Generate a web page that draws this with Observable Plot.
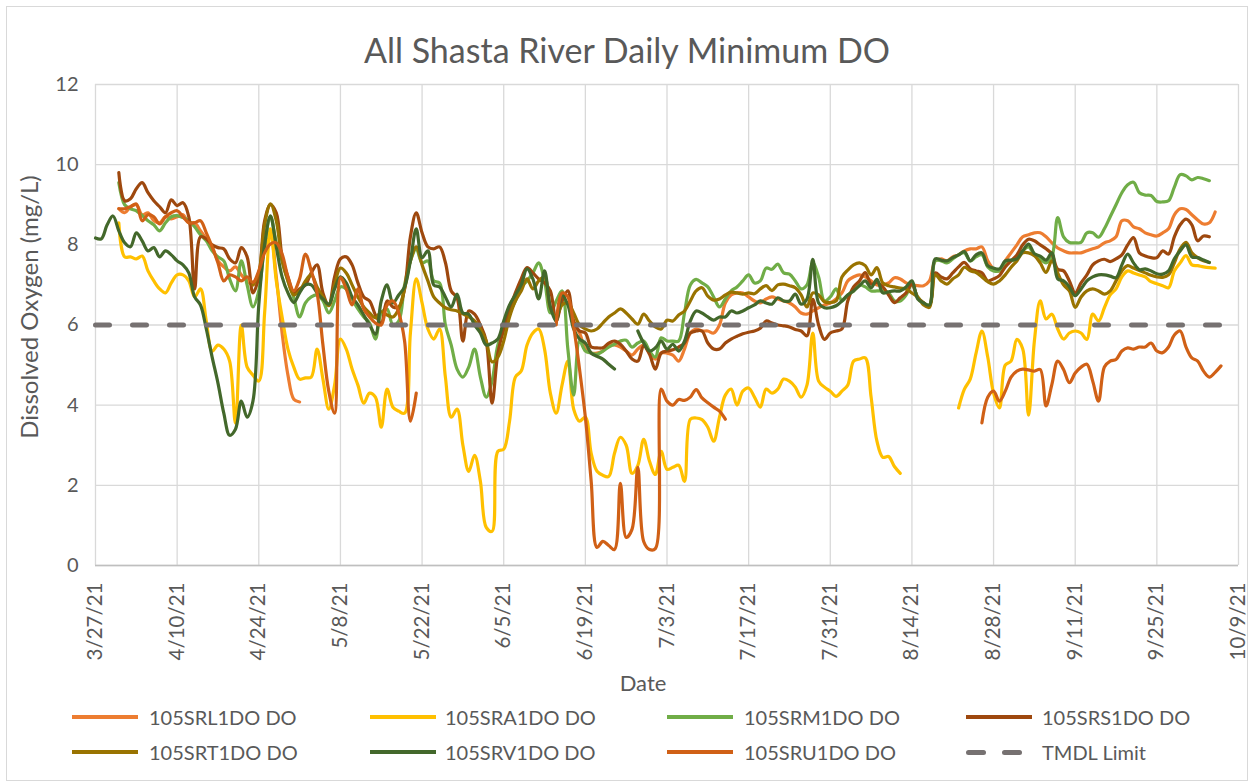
<!DOCTYPE html>
<html>
<head>
<meta charset="utf-8">
<script src="https://cdn.jsdelivr.net/npm/d3@7"></script>
<script src="https://cdn.jsdelivr.net/npm/@observablehq/plot@0.6"></script>
<style>
  html, body { margin: 0; padding: 0; background: #fff; }
  #wrap { position: relative; width: 1255px; height: 784px; overflow: hidden; font-family: Lato, "Open Sans", sans-serif; color: #595959; }
  #frame { position: absolute; left: 6px; top: 6px; width: 1242px; height: 775px; border: 1px solid #d9d9d9; box-sizing: border-box; }
  #chart { position: absolute; left: 0; top: 0; }
  .lg { position: absolute; font-size: 20px; line-height: 22px; white-space: nowrap; }
  .sw { position: absolute; height: 4px; width: 66px; }
</style>
</head>
<body>
<div id="wrap"><div id="frame"></div><div id="chart"></div><div id="legend"></div></div>
<script>
const startDate = "2021-03-27";
const title = "All Shasta River Daily Minimum DO";
const xTitle = "Date";
const yTitle = "Dissolved Oxygen (mg/L)";
const xTickLabels = ["3/27/21","4/10/21","4/24/21","5/8/21","5/22/21","6/5/21","6/19/21","7/3/21","7/17/21","7/31/21","8/14/21","8/28/21","9/11/21","9/25/21","10/9/21"];
const yTicks = [0, 2, 4, 6, 8, 10, 12];
const tmdlLimit = 6;
const seriesNames = ["105SRL1DO DO","105SRA1DO DO","105SRM1DO DO","105SRS1DO DO","105SRT1DO DO","105SRV1DO DO","105SRU1DO DO"];
const seriesColors = ["#ED7D31","#FFC000","#70AD47","#9E480E","#997300","#43682B","#D06016"];
const tmdlName = "TMDL Limit";
const tmdlColor = "#767171";

// [days since 3/27/21, mg/L]; null = no data
const SRL1 = [[4,8.9],[5,8.8],[6,8.95],[7,9.0],[8,8.75],[9,8.8],[10,8.6],[11,8.55],[12,8.7],[13,8.65],[14,8.7],[15,8.75],[16,8.55],[17,8.55],[18,8.35],[19,8.15],[20,7.95],[21,7.6],[22,7.45],[23,7.35],[24,7.45],[25,7.25],[26,7.1],[27,7.0],[28,7.3],[29,7.9],[30,8.2],[31,7.2],[32,5.8],[33,4.75],[34,4.15],[35,4.08],[36,null],
[82,6.0],[83,5.8],[84,5.4],[85,5.3],[86,5.3],[87,5.35],[88,5.5],[89,5.5],[90,5.45],[91,5.35],[92,5.25],[93,5.4],[94,5.5],[95,5.3],[96,5.15],[97,5.3],[98,5.3],[99,5.25],[100,5.1],[101,5.4],[102,5.8],[103,5.9],[104,5.85],[105,5.85],[106,5.8],[107,6.0],[108,6.55],[109,6.75],[110,6.8],[111,6.8],[112,6.7],[113,6.6],[114,6.55],[115,6.65],[116,6.7],[117,6.65],[118,6.6],[119,6.55],[120,6.45],[121,6.3],[122,6.27],[123,6.35],[124,6.43],[125,6.5],[126,6.55],[127,6.65],[128,6.8],[129,7.1],[130,7.2],[131,7.25],[132,7.2],[133,7.1],[134,7.0],[135,7.0],[136,7.05],[137,7.18],[138,7.15],[139,7.05],[140,7.0],[141,6.98],[142,6.98],[143,7.1],[144,7.6],[145,7.65],[146,7.6],[147,7.7],[148,7.75],[149,7.85],[150,7.9],[151,7.9],[152,7.95],[153,7.6],[154,7.4],[155,7.35],[156,7.6],[157,7.8],[158,8.0],[159,8.2],[160,8.25],[161,8.3],[162,8.3],[163,8.2],[164,8.05],[165,7.92],[166,7.85],[167,7.8],[168,7.8],[169,7.8],[170,7.85],[171,7.9],[172,7.95],[173,8.05],[174,8.1],[175,8.2],[176,8.6],[177,8.6],[178,8.45],[179,8.4],[180,8.3],[181,8.25],[182,8.22],[183,8.3],[184,8.4],[185,8.75],[186,8.9],[187,8.88],[188,8.75],[189,8.62],[190,8.52],[191,8.55],[192,8.82]];

const SRA1 = [[4,8.55],[5,7.7],[6,7.7],[7,7.65],[8,7.72],[9,7.35],[10,7.1],[11,6.9],[12,6.8],[13,7.05],[14,7.25],[15,7.25],[16,7.1],[17,6.7],[18,6.9],[19,6.1],[20,5.35],[21,5.5],[22,5.4],[23,5.1],[24,3.55],[25,6.0],[26,4.95],[27,4.75],[28,4.6],[29,6.3],[30,8.4],[31,7.1],[32,6.2],[33,5.4],[34,4.95],[35,4.65],[36,4.68],[37,4.7],[38,5.4],[39,4.65],[40,3.9],[41,4.5],[42,5.65],[43,5.4],[44,4.9],[45,4.5],[46,4.05],[47,4.3],[48,4.2],[49,3.45],[50,4.4],[51,3.95],[52,3.85],[53,3.8],[54,5.8],[55,7.15],[56,6.55],[57,5.9],[58,5.65],[59,5.9],[60,4.7],[61,3.7],[62,3.9],[63,3.0],[64,2.35],[65,2.75],[66,2.1],[67,0.95],[68,0.85],[69,2.85],[70,2.9],[71,3.6],[72,4.7],[73,4.85],[74,5.5],[75,5.8],[76,5.9],[77,5.4],[78,4.3],[79,3.8],[80,4.5],[81,5.1],[82,3.9],[83,3.6],[84,3.7],[85,2.8],[86,2.35],[87,2.25],[88,2.22],[89,2.8],[90,3.2],[91,3.0],[92,2.3],[93,2.5],[94,3.15],[95,2.6],[96,2.27],[97,2.85],[98,2.4],[99,2.45],[100,2.5],[101,2.1],[102,3.65],[103,3.68],[104,3.64],[105,3.45],[106,3.1],[107,3.7],[108,4.25],[109,4.4],[110,4.0],[111,4.35],[112,4.43],[113,4.2],[114,3.95],[115,4.4],[116,4.3],[117,4.4],[118,4.65],[119,4.6],[120,4.45],[121,4.2],[122,4.5],[123,5.8],[124,4.6],[125,4.45],[126,4.35],[127,4.22],[128,4.35],[129,4.5],[130,5.1],[131,5.15],[132,5.18],[133,4.2],[134,3.1],[135,2.7],[136,2.72],[137,2.47],[138,2.3],[139,null],
[148,3.93],[149,4.4],[150,4.65],[151,5.3],[152,5.85],[153,5.2],[154,4.3],[155,3.93],[156,5.0],[157,5.1],[158,5.64],[159,5.4],[160,3.75],[161,5.6],[162,6.6],[163,6.15],[164,6.27],[165,5.9],[166,5.65],[167,5.8],[168,5.85],[169,5.8],[170,5.64],[171,6.27],[172,6.1],[173,6.43],[174,6.75],[175,6.9],[176,7.2],[177,7.35],[178,7.3],[179,7.25],[180,7.2],[181,7.08],[182,7.03],[183,6.98],[184,6.93],[185,7.35],[186,7.55],[187,7.73],[188,7.5],[189,7.48],[190,7.45],[191,7.43],[192,7.42]];

const SRM1 = [[4,9.55],[5,9.0],[6,8.9],[7,8.85],[8,8.73],[9,8.6],[10,8.5],[11,8.35],[12,8.55],[13,8.7],[14,8.73],[15,8.68],[16,8.6],[17,8.45],[18,8.25],[19,8.1],[20,7.85],[21,7.7],[22,7.6],[23,7.15],[24,6.85],[25,7.6],[26,7.0],[27,6.45],[28,6.85],[29,8.0],[30,8.7],[31,8.05],[32,7.6],[33,7.1],[34,6.68],[35,6.2],[36,6.55],[37,6.7],[38,6.75],[39,6.6],[40,6.3],[41,6.6],[42,6.95],[43,6.9],[44,6.65],[45,6.4],[46,6.2],[47,6.05],[48,5.65],[49,6.3],[50,6.4],[51,6.0],[52,6.1],[53,7.0],[54,7.6],[55,7.9],[56,7.55],[57,7.6],[58,7.1],[59,7.05],[60,6.0],[61,5.5],[62,4.9],[63,4.7],[64,4.95],[65,5.4],[66,4.7],[67,4.2],[68,4.6],[69,5.5],[70,5.85],[71,6.3],[72,6.6],[73,6.95],[74,7.1],[75,7.3],[76,7.55],[77,7.1],[78,6.3],[79,6.6],[80,6.85],[81,5.4],[82,4.25],[83,5.6],[84,5.35],[85,5.3],[86,5.27],[87,5.35],[88,5.45],[89,5.52],[90,5.6],[91,5.62],[92,5.45],[93,5.55],[94,5.6],[95,5.35],[96,5.2],[97,5.68],[98,5.6],[99,5.6],[100,5.6],[101,6.3],[102,7.0],[103,7.14],[104,7.05],[105,6.95],[106,6.7],[107,6.45],[108,6.65],[109,6.85],[110,6.95],[111,7.1],[112,7.25],[113,7.05],[114,7.1],[115,7.42],[116,7.39],[117,7.52],[118,7.3],[119,7.27],[120,7.1],[121,6.9],[122,7.0],[123,7.55],[124,7.2],[125,6.6],[126,6.7],[127,6.9],[128,6.6],[129,6.75],[130,6.85],[131,7.0],[132,6.95],[133,6.85],[134,6.85],[135,6.85],[136,6.8],[137,6.6],[138,6.6],[139,6.75],[140,7.0],[141,6.7],[142,6.55],[143,6.5],[144,7.6],[145,7.6],[146,7.55],[147,7.65],[148,7.75],[149,7.8],[150,7.6],[151,7.7],[152,7.75],[153,7.45],[154,7.35],[155,7.35],[156,7.55],[157,7.6],[158,7.65],[159,7.85],[160,7.95],[161,7.75],[162,7.65],[163,7.55],[164,7.7],[165,8.68],[166,8.2],[167,8.06],[168,8.05],[169,8.06],[170,8.3],[171,8.3],[172,8.19],[173,8.4],[174,8.7],[175,9.0],[176,9.3],[177,9.5],[178,9.56],[179,9.3],[180,9.24],[181,9.23],[182,9.08],[183,9.07],[184,9.1],[185,9.44],[186,9.75],[187,9.72],[188,9.62],[189,9.68],[190,9.65],[191,9.6]];

const SRS1 = [[4,9.8],[5,9.1],[6,9.15],[7,9.4],[8,9.55],[9,9.3],[10,9.1],[11,8.95],[12,8.8],[13,9.12],[14,8.98],[15,9.05],[16,8.7],[17,6.9],[18,8.2],[19,8.15],[20,8.0],[21,7.93],[22,7.9],[23,7.65],[24,7.55],[25,7.93],[26,7.7],[27,6.8],[28,7.2],[29,8.6],[30,9.0],[31,8.8],[32,7.7],[33,7.2],[34,6.8],[35,6.9],[36,7.0],[37,7.3],[38,7.5],[39,6.8],[40,6.5],[41,7.2],[42,7.65],[43,7.7],[44,7.5],[45,7.05],[46,6.7],[47,6.6],[48,6.25],[49,6.05],[50,6.6],[51,6.45],[52,6.45],[53,6.9],[54,8.2],[55,8.8],[56,8.3],[57,7.95],[58,7.9],[59,7.95],[60,7.56],[61,6.85],[62,6.68],[63,5.6],[64,6.35],[65,6.27],[66,6.0],[67,5.6],[68,4.05],[69,5.3],[70,5.9],[71,6.4],[72,6.8],[73,7.15],[74,7.43],[75,7.3],[76,7.15],[77,7.05],[78,6.85],[79,6.1],[80,6.6],[81,6.85],[82,6.1],[83,5.85],[84,5.8],[85,5.45],[86,5.43],[87,5.43],[88,5.55],[89,5.6],[90,5.52],[91,5.35],[92,5.15],[93,5.1],[94,5.48],[95,5.27],[96,4.9],[97,5.3],[98,5.35],[99,5.38],[100,5.45],[101,5.55],[102,5.8],[103,5.85],[104,5.85],[105,5.55],[106,5.4],[107,5.4],[108,5.55],[109,5.65],[110,5.72],[111,5.78],[112,5.82],[113,5.85],[114,5.92],[115,6.1],[116,6.05],[117,6.0],[118,5.98],[119,5.95],[120,5.89],[121,5.85],[122,5.73],[123,6.64],[124,6.0],[125,5.64],[126,5.8],[127,5.85],[128,5.9],[129,6.6],[130,6.95],[131,7.1],[132,7.31],[133,7.02],[134,7.06],[135,6.95],[136,6.75],[137,6.56],[138,6.68],[139,6.8],[140,7.02],[141,6.68],[142,6.55],[143,6.48],[144,7.3],[145,7.2],[146,7.15],[147,7.3],[148,7.45],[149,7.56],[150,7.4],[151,7.35],[152,7.3],[153,7.1],[154,7.15],[155,7.23],[156,7.45],[157,7.6],[158,7.75],[159,8.0],[160,8.14],[161,8.1],[162,8.0],[163,7.9],[164,7.77],[165,7.39],[166,7.35],[167,7.1],[168,6.8],[169,7.05],[170,7.25],[171,7.5],[172,7.6],[173,7.64],[174,7.58],[175,7.65],[176,7.75],[177,8.0],[178,8.18],[179,7.8],[180,7.72],[181,7.68],[182,7.68],[183,7.85],[184,7.77],[185,8.2],[186,8.5],[187,8.64],[188,8.5],[189,8.1],[190,8.22],[191,8.2]];

const SRT1 = [[27,7.0],[28,7.3],[29,8.5],[30,9.02],[31,8.6],[32,7.6],[33,7.1],[34,6.75],[35,6.85],[36,7.1],[37,7.25],[38,6.95],[39,6.7],[40,6.48],[41,7.0],[42,7.42],[43,7.3],[44,7.0],[45,6.7],[46,6.45],[47,6.3],[48,6.18],[49,6.33],[50,6.25],[51,6.2],[52,6.4],[53,6.9],[54,7.6],[55,7.95],[56,7.5],[57,7.1],[58,6.7],[59,6.55],[60,6.43],[61,6.38],[62,6.35],[63,6.28],[64,6.2],[65,6.1],[66,5.9],[67,5.6],[68,5.08],[69,5.2],[70,5.6],[71,6.2],[72,6.6],[73,6.85],[74,7.15],[75,6.9],[76,7.1],[77,7.2],[78,6.43],[79,6.2],[80,6.5],[81,6.55],[82,6.3],[83,6.0],[84,5.9],[85,5.85],[86,5.9],[87,6.05],[88,6.2],[89,6.3],[90,6.4],[91,6.3],[92,6.15],[93,6.02],[94,6.27],[95,6.1],[96,5.95],[97,5.9],[98,6.12],[99,6.1],[100,6.25],[101,6.35],[102,6.6],[103,6.85],[104,6.93],[105,6.72],[106,6.62],[107,6.65],[108,6.75],[109,6.82],[110,6.8],[111,6.77],[112,6.8],[113,6.78],[114,6.9],[115,6.98],[116,6.86],[117,7.0],[118,7.02],[119,6.98],[120,6.93],[121,6.75],[122,6.45],[123,6.8],[124,6.75],[125,6.58],[126,6.56],[127,6.6],[128,7.2],[129,7.37],[130,7.5],[131,7.55],[132,7.48],[133,7.25],[134,7.43],[135,7.05],[136,6.98],[137,6.95],[138,6.92],[139,6.9],[140,6.8],[141,6.69],[142,6.5],[143,6.44],[144,7.25],[145,7.1],[146,7.02],[147,7.15],[148,7.25],[149,7.44],[150,7.35],[151,7.31],[152,7.2],[153,7.08],[154,7.02],[155,7.1],[156,7.25],[157,7.44],[158,7.6],[159,7.8],[160,7.8],[161,7.73],[162,7.55],[163,7.31],[164,7.6],[165,7.3],[166,7.0],[167,6.85],[168,6.44],[169,6.7],[170,6.85],[171,6.9],[172,6.85],[173,6.77],[174,6.85],[175,7.1],[176,7.35],[177,7.48],[178,7.42],[179,7.36],[180,7.3],[181,7.24],[182,7.2],[183,7.19],[184,7.25],[185,7.55],[186,7.9],[187,8.06],[188,7.8],[189,7.68],[190,7.6],[191,7.56]];

const SRV1 = [[0,8.17],[1,8.15],[2,8.5],[3,8.72],[4,8.35],[5,8.05],[6,7.95],[7,8.3],[8,8.1],[9,7.85],[10,7.93],[11,7.7],[12,7.85],[13,7.75],[14,7.6],[15,7.5],[16,7.3],[17,6.7],[18,6.5],[19,5.9],[20,5.2],[21,4.55],[22,3.8],[23,3.25],[24,3.4],[25,4.1],[26,3.7],[27,4.1],[28,6.5],[29,8.0],[30,8.72],[31,7.95],[32,7.2],[33,6.8],[34,6.56],[35,6.8],[36,7.0],[37,7.0],[38,6.8],[39,6.65],[40,6.52],[41,6.9],[42,7.2],[43,7.05],[44,6.7],[45,6.5],[46,6.25],[47,6.0],[48,5.77],[49,6.6],[50,7.0],[51,6.55],[52,6.75],[53,6.95],[54,7.6],[55,8.4],[56,7.68],[57,7.85],[58,7.0],[59,6.95],[60,6.7],[61,6.45],[62,6.77],[63,6.3],[64,6.27],[65,6.0],[66,5.8],[67,5.5],[68,5.55],[69,5.65],[70,6.1],[71,6.5],[72,6.75],[73,7.0],[74,7.4],[75,7.15],[76,6.65],[77,7.35],[78,6.45],[79,6.1],[80,6.75],[81,6.5],[82,5.9],[83,5.65],[84,5.55],[85,5.3],[86,5.22],[87,5.15],[88,5.02],[89,4.9],[90,null],
[93,5.85],[94,5.55],[95,5.35],[96,5.43],[97,5.6],[98,5.4],[99,5.52],[100,5.35],[101,5.6],[102,6.1],[103,6.35],[104,6.3],[105,6.2],[106,6.12],[107,6.2],[108,6.2],[109,6.35],[110,6.3],[111,6.35],[112,6.43],[113,6.5],[114,6.6],[115,6.55],[116,6.52],[117,6.68],[118,6.6],[119,6.6],[120,6.77],[121,6.52],[122,6.65],[123,7.64],[124,6.55],[125,6.43],[126,6.43],[127,6.48],[128,6.6],[129,6.75],[130,6.85],[131,6.98],[132,7.1],[133,6.93],[134,7.14],[135,6.8],[136,6.83],[137,6.85],[138,6.85],[139,6.95],[140,7.1],[141,6.65],[142,6.55],[143,6.5],[144,7.65],[145,7.62],[146,7.6],[147,7.68],[148,7.75],[149,7.83],[150,7.6],[151,7.75],[152,7.8],[153,7.48],[154,7.42],[155,7.4],[156,7.6],[157,7.62],[158,7.65],[159,7.85],[160,8.02],[161,7.78],[162,7.72],[163,7.62],[164,7.8],[165,7.15],[166,7.1],[167,6.95],[168,6.73],[169,6.9],[170,7.1],[171,7.2],[172,7.25],[173,7.25],[174,7.22],[175,7.18],[176,7.5],[177,7.77],[178,7.55],[179,7.38],[180,7.4],[181,7.35],[182,7.28],[183,7.27],[184,7.35],[185,7.65],[186,7.85],[187,8.0],[188,7.7],[189,7.68],[190,7.62],[191,7.56]];

const SRU1 = [[4,8.9],[5,8.9],[6,8.95],[7,9.02],[8,8.6],[9,8.75],[10,8.7],[11,8.52],[12,8.7],[13,8.8],[14,8.85],[15,8.7],[16,8.55],[17,8.55],[18,8.6],[19,8.3],[20,7.95],[21,7.55],[22,7.1],[23,7.25],[24,7.2],[25,7.1],[26,7.2],[27,7.06],[28,7.35],[29,7.8],[30,8.02],[31,8.05],[32,7.77],[33,7.2],[34,6.85],[35,7.15],[36,7.77],[37,7.35],[38,6.8],[39,5.5],[40,4.35],[41,3.8],[42,7.18],[43,6.9],[44,6.5],[45,6.9],[46,6.4],[47,6.2],[48,6.05],[49,6.0],[50,6.5],[51,6.6],[52,6.3],[53,5.6],[54,3.6],[55,4.3],[56,null],
[79,6.0],[80,6.8],[81,6.7],[82,5.95],[83,4.9],[84,3.7],[85,2.1],[86,0.45],[87,0.6],[88,0.5],[89,0.4],[90,2.05],[91,0.7],[92,0.9],[93,2.45],[94,0.6],[95,0.4],[96,0.42],[97,4.4],[98,4.1],[99,4.0],[100,4.14],[101,4.12],[102,4.2],[103,4.39],[104,4.18],[105,4.06],[106,3.95],[107,3.85],[108,3.65],[109,null],
[152,3.56],[153,4.2],[154,4.35],[155,4.1],[156,4.35],[157,4.7],[158,4.85],[159,4.9],[160,4.88],[161,4.85],[162,4.89],[163,3.98],[164,4.52],[165,5.1],[166,4.89],[167,4.56],[168,4.8],[169,4.95],[170,5.02],[171,4.6],[172,4.1],[173,4.95],[174,5.1],[175,5.14],[176,5.35],[177,5.43],[178,5.4],[179,5.45],[180,5.45],[181,5.55],[182,5.35],[183,5.31],[184,5.45],[185,5.75],[186,5.85],[187,5.45],[188,5.18],[189,5.1],[190,4.85],[191,4.7],[192,4.82],[193,4.98]];

const seriesData = [SRL1, SRA1, SRM1, SRS1, SRT1, SRV1, SRU1];

const t0 = new Date(startDate + "T00:00:00Z");
const toDate = d => new Date(t0.getTime() + d * 864e5);
const parseTick = s => { const [m, d, y] = s.split("/").map(Number); return new Date(Date.UTC(2000 + y, m - 1, d)); };
const xTicks = xTickLabels.map(parseTick);
const fmt = d => (d.getUTCMonth() + 1) + "/" + d.getUTCDate() + "/" + String(d.getUTCFullYear()).slice(2);

const lines = seriesData.map((arr, i) =>
  Plot.line(arr.map(([d, v]) => ({date: toDate(d), value: v})), {
    x: "date", y: "value", stroke: seriesColors[i], strokeWidth: 3.2,
    curve: "catmull-rom", strokeLinejoin: "round", strokeLinecap: "round"
  })
);

const tmdlData = [xTicks[0], xTicks[xTicks.length - 1]].map(d => ({date: d, value: tmdlLimit}));

const chart = Plot.plot({
  width: 1255, height: 784,
  marginLeft: 95, marginRight: 17, marginTop: 84, marginBottom: 219,
  style: {fontFamily: "Lato, 'Open Sans', sans-serif", color: "#595959", background: "transparent", overflow: "visible"},
  x: {type: "utc", domain: [xTicks[0], xTicks[xTicks.length - 1]]},
  y: {domain: [0, 12]},
  marks: [
    Plot.gridX(xTicks, {stroke: "#d9d9d9", strokeOpacity: 1, strokeWidth: 1.3}),
    Plot.gridY(yTicks, {stroke: "#d9d9d9", strokeOpacity: 1, strokeWidth: 1.3}),
    Plot.ruleY([0], {stroke: "#bfbfbf", strokeWidth: 1.6}),
    Plot.axisX(xTicks, {tickFormat: fmt, tickRotate: -90, tickSize: 0, tickPadding: 17, fontSize: 20.5, fill: "#595959", label: null}),
    Plot.axisY(yTicks, {tickSize: 0, tickPadding: 17, fontSize: 20, fill: "#595959", label: null}),
    ...lines,
    Plot.line(tmdlData, {x: "date", y: "value", stroke: tmdlColor, strokeWidth: 5, strokeDasharray: "14,23", strokeLinecap: "round"}),
    Plot.text([title], {frameAnchor: "top", lineAnchor: "middle", dx: -40, dy: -32, fontSize: 34, fill: "#595959"}),
    Plot.text([xTitle], {frameAnchor: "bottom", lineAnchor: "middle", dx: -24, dy: 118, fontSize: 22, fill: "#595959"}),
    Plot.text([yTitle], {frameAnchor: "left", textAnchor: "middle", lineAnchor: "middle", dx: -65, dy: -18, rotate: -90, fontSize: 24, fill: "#595959"})
  ]
});
document.getElementById("chart").appendChild(chart);

// legend
const legend = document.getElementById("legend");
const colX = [72, 370, 667, 966];
const textX = [149, 445, 744, 1042];
const rowY = [717, 752];
const items = seriesNames.map((n, i) => ({name: n, color: seriesColors[i], dash: false}));
items.push({name: tmdlName, color: tmdlColor, dash: true});
items.forEach((it, i) => {
  const r = Math.floor(i / 4), c = i % 4;
  if (it.dash) {
    [0, 36].forEach(off => {
      const s = document.createElement("div");
      s.className = "sw";
      s.style.cssText = `left:${colX[c] + off}px;top:${rowY[r] - 2.5}px;width:20px;height:5px;border-radius:3px;background:${it.color}`;
      legend.appendChild(s);
    });
  } else {
    const s = document.createElement("div");
    s.className = "sw";
    s.style.cssText = `left:${colX[c]}px;top:${rowY[r] - 2}px;background:${it.color}`;
    legend.appendChild(s);
  }
  const t = document.createElement("div");
  t.className = "lg";
  t.style.left = textX[c] + "px";
  t.style.top = (rowY[r] - 11) + "px";
  t.textContent = it.name;
  legend.appendChild(t);
});
</script>
</body>
</html>
